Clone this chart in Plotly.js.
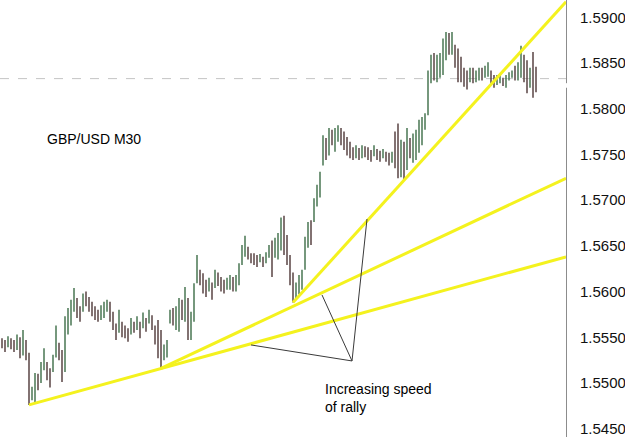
<!DOCTYPE html>
<html>
<head>
<meta charset="utf-8">
<script src="https://cdn.plot.ly/plotly-3.0.1.min.js"></script>
<style>html,body{margin:0;padding:0;background:#fff}#chart{width:625px;height:437px}</style>
</head>
<body>
<div id="chart"></div>
<script>
// GBP/USD M30 bars (bar index, O/H/L/C)
const openP = [
1.5547,1.5544,1.5540,1.5548,1.5541,1.5538,1.5549,1.5532,1.5545,1.5530,
1.5483,1.5485,1.5507,1.5502,1.5518,1.5521,1.5510,1.5514,1.5530,1.5542,
1.5530,1.5515,1.5560,1.5570,1.5582,1.5591,1.5580,1.5580,1.5597,1.5590,
1.5586,1.5580,1.5576,1.5571,1.5578,1.5582,1.5587,1.5572,1.5560,1.5557,
1.5566,1.5560,1.5555,1.5555,1.5566,1.5560,1.5566,1.5562,1.5569,1.5567,
1.5572,1.5561,1.5550,1.5540,1.5527,1.5535,1.5567,1.5579,1.5562,1.5560,
1.5589,1.5570,1.5590,1.5550,1.5572,1.5610,1.5622,1.5612,1.5605,1.5601,
1.5608,1.5606,1.5619,1.5612,1.5610,1.5603,1.5605,1.5615,1.5603,1.5610,
1.5630,1.5645,1.5647,1.5640,1.5638,1.5636,1.5633,1.5637,1.5632,1.5640,
1.5650,1.5640,1.5642,1.5650,1.5678,1.5650,1.5635,1.5612,1.5593,1.5600,
1.5605,1.5625,1.5655,1.5674,1.5678,1.5697,1.5712,1.5740,1.5766,1.5750,
1.5775,1.5760,1.5768,1.5778,1.5765,1.5760,1.5755,1.5750,1.5748,1.5756,
1.5747,1.5757,1.5752,1.5750,1.5749,1.5755,1.5750,1.5747,1.5752,1.5748,
1.5742,1.5755,1.5770,1.5728,1.5760,1.5735,1.5765,1.5748,1.5752,1.5760,
1.5770,1.5780,1.5795,1.5835,1.5856,1.5833,1.5840,1.5845,1.5862,1.5880,
1.5862,1.5868,1.5850,1.5850,1.5838,1.5835,1.5830,1.5843,1.5831,1.5833,
1.5843,1.5835,1.5840,1.5840,1.5833,1.5827,1.5829,1.5833,1.5825,1.5833,
1.5836,1.5845,1.5835,1.5845,1.5855,1.5845,1.5825,1.5845,1.5840];
const highP = [
1.5549,1.5547,1.5551,1.5549,1.5547,1.5553,1.5550,1.5558,1.5547,1.5533,
1.5496,1.5511,1.5510,1.5523,1.5538,1.5523,1.5516,1.5531,1.5563,1.5544,
1.5536,1.5573,1.5582,1.5591,1.5604,1.5593,1.5584,1.5598,1.5600,1.5594,
1.5589,1.5584,1.5580,1.5585,1.5589,1.5591,1.5589,1.5578,1.5565,1.5580,
1.5567,1.5563,1.5560,1.5571,1.5567,1.5573,1.5567,1.5577,1.5571,1.5580,
1.5574,1.5563,1.5569,1.5558,1.5542,1.5547,1.5580,1.5582,1.5584,1.5593,
1.5591,1.5605,1.5593,1.5578,1.5609,1.5640,1.5624,1.5620,1.5613,1.5615,
1.5610,1.5624,1.5621,1.5616,1.5613,1.5615,1.5618,1.5616,1.5618,1.5631,
1.5651,1.5661,1.5649,1.5642,1.5642,1.5640,1.5641,1.5638,1.5643,1.5651,
1.5656,1.5659,1.5664,1.5681,1.5683,1.5662,1.5640,1.5621,1.5610,1.5618,
1.5624,1.5660,1.5676,1.5678,1.5702,1.5717,1.5731,1.5771,1.5768,1.5779,
1.5777,1.5779,1.5782,1.5779,1.5775,1.5769,1.5764,1.5758,1.5760,1.5757,
1.5760,1.5759,1.5758,1.5755,1.5760,1.5756,1.5754,1.5756,1.5753,1.5752,
1.5753,1.5775,1.5784,1.5766,1.5764,1.5779,1.5768,1.5773,1.5777,1.5788,
1.5791,1.5795,1.5842,1.5859,1.5861,1.5859,1.5861,1.5877,1.5884,1.5883,
1.5884,1.5870,1.5866,1.5857,1.5845,1.5842,1.5845,1.5845,1.5842,1.5845,
1.5845,1.5847,1.5851,1.5842,1.5837,1.5837,1.5837,1.5834,1.5837,1.5840,
1.5842,1.5847,1.5851,1.5869,1.5859,1.5853,1.5845,1.5862,1.5846];
const lowP = [
1.5538,1.5534,1.5539,1.5537,1.5534,1.5536,1.5527,1.5530,1.5525,1.5476,
1.5481,1.5479,1.5492,1.5500,1.5514,1.5503,1.5495,1.5512,1.5528,1.5525,
1.5501,1.5512,1.5553,1.5563,1.5578,1.5571,1.5567,1.5578,1.5584,1.5578,
1.5573,1.5569,1.5567,1.5569,1.5571,1.5578,1.5567,1.5558,1.5547,1.5555,
1.5550,1.5549,1.5545,1.5553,1.5555,1.5558,1.5549,1.5560,1.5556,1.5565,
1.5558,1.5542,1.5527,1.5516,1.5525,1.5528,1.5565,1.5563,1.5558,1.5556,
1.5569,1.5567,1.5547,1.5547,1.5567,1.5609,1.5607,1.5598,1.5594,1.5600,
1.5591,1.5604,1.5606,1.5600,1.5598,1.5602,1.5602,1.5600,1.5600,1.5607,
1.5629,1.5638,1.5635,1.5631,1.5629,1.5627,1.5632,1.5627,1.5631,1.5637,
1.5616,1.5637,1.5635,1.5645,1.5640,1.5629,1.5607,1.5588,1.5591,1.5597,
1.5602,1.5624,1.5648,1.5651,1.5676,1.5693,1.5703,1.5738,1.5744,1.5749,
1.5760,1.5753,1.5764,1.5760,1.5755,1.5749,1.5746,1.5744,1.5746,1.5744,
1.5746,1.5747,1.5744,1.5742,1.5748,1.5744,1.5742,1.5746,1.5742,1.5738,
1.5741,1.5735,1.5724,1.5725,1.5722,1.5733,1.5746,1.5741,1.5744,1.5752,
1.5760,1.5777,1.5793,1.5828,1.5831,1.5829,1.5834,1.5837,1.5853,1.5859,
1.5859,1.5845,1.5829,1.5829,1.5824,1.5821,1.5829,1.5828,1.5829,1.5831,
1.5831,1.5834,1.5835,1.5828,1.5823,1.5826,1.5828,1.5825,1.5823,1.5831,
1.5834,1.5831,1.5831,1.5834,1.5829,1.5817,1.5823,1.5812,1.5818];
const closeP = [
1.5540,1.5537,1.5549,1.5540,1.5536,1.5550,1.5530,1.5555,1.5528,1.5480,
1.5494,1.5508,1.5495,1.5520,1.5535,1.5506,1.5498,1.5528,1.5560,1.5528,
1.5505,1.5570,1.5579,1.5588,1.5600,1.5575,1.5570,1.5595,1.5587,1.5580,
1.5576,1.5572,1.5570,1.5583,1.5587,1.5589,1.5570,1.5561,1.5550,1.5577,
1.5553,1.5551,1.5547,1.5568,1.5557,1.5571,1.5552,1.5575,1.5558,1.5578,
1.5561,1.5545,1.5530,1.5520,1.5540,1.5545,1.5578,1.5566,1.5582,1.5590,
1.5572,1.5602,1.5550,1.5575,1.5605,1.5636,1.5610,1.5600,1.5596,1.5612,
1.5594,1.5621,1.5609,1.5602,1.5600,1.5613,1.5616,1.5603,1.5616,1.5628,
1.5648,1.5658,1.5638,1.5633,1.5631,1.5629,1.5640,1.5629,1.5641,1.5649,
1.5620,1.5656,1.5661,1.5676,1.5645,1.5632,1.5610,1.5592,1.5607,1.5615,
1.5620,1.5657,1.5673,1.5655,1.5698,1.5714,1.5728,1.5768,1.5747,1.5776,
1.5763,1.5777,1.5780,1.5763,1.5758,1.5752,1.5748,1.5746,1.5757,1.5746,
1.5758,1.5749,1.5746,1.5744,1.5758,1.5746,1.5744,1.5754,1.5744,1.5741,
1.5751,1.5738,1.5728,1.5762,1.5726,1.5775,1.5750,1.5770,1.5774,1.5785,
1.5788,1.5793,1.5838,1.5855,1.5835,1.5856,1.5858,1.5873,1.5880,1.5862,
1.5881,1.5848,1.5832,1.5832,1.5826,1.5824,1.5843,1.5831,1.5840,1.5843,
1.5833,1.5845,1.5849,1.5830,1.5825,1.5835,1.5836,1.5827,1.5835,1.5838,
1.5841,1.5834,1.5849,1.5865,1.5832,1.5820,1.5842,1.5816,1.5833];

// Trend lines (yellow): start bar/price and value at right edge
const trendStartBar   = [9, 53, 97];
const trendStartPrice = [1.5476, 1.5516, 1.5588];
const trendEndBar     = 188;
const trendEndPrice   = [1.5638, 1.5724, 1.5917];

// Pointer lines from label vertex to each trend line
const pointerVertex = [116.67, 1.55241];
const pointerEndBar   = [83, 106.67, 121.67];
const pointerEndPrice = [1.55416, 1.55963, 1.56794];

const yTicks = [1.5450,1.5500,1.5550,1.5600,1.5650,1.5700,1.5750,1.5800,1.5850,1.5900];
const yRange = [1.54409, 1.5919];
const xRange = [-0.667, 188];

const bars = closeP.map((_, i) => i);
const FONT = 'Arial, "Liberation Sans", sans-serif';

const traces = [{
  type: 'ohlc', x: bars, open: openP, high: highP, low: lowP, close: closeP,
  increasing: {line: {color: '#4a7753', width: 1.5}},
  decreasing: {line: {color: '#5a4444', width: 1.5}},
  tickwidth: 0.15, hoverinfo: 'skip', showlegend: false
}];
trendStartBar.forEach((b, k) => {
  traces.push({type: 'scatter', mode: 'lines', x: [b, trendEndBar], y: [trendStartPrice[k], trendEndPrice[k]],
    line: {color: '#f4f21e', width: 3}, hoverinfo: 'skip', showlegend: false});
});
pointerEndBar.forEach((b, k) => {
  traces.push({type: 'scatter', mode: 'lines', x: [b, pointerVertex[0]], y: [pointerEndPrice[k], pointerVertex[1]],
    line: {color: '#3a3a3a', width: 1}, hoverinfo: 'skip', showlegend: false});
});

const lastClose = closeP[closeP.length - 1];

const layout = {
  width: 625, height: 437,
  margin: {l: 0, r: 59, t: 0, b: 0, pad: 0},
  paper_bgcolor: '#ffffff', plot_bgcolor: '#ffffff',
  showlegend: false,
  xaxis: {range: xRange, visible: false, rangeslider: {visible: false}, fixedrange: true},
  yaxis: {
    range: yRange, side: 'right', tickvals: yTicks, ticktext: yTicks.map(v => v.toFixed(4)),
    showgrid: false, zeroline: false, showline: true, linecolor: '#8c8c8c', linewidth: 1,
    ticks: '', ticklabelstandoff: 10,
    tickfont: {family: FONT, size: 15, color: '#111111'}, fixedrange: true
  },
  shapes: [
    {type: 'line', xref: 'paper', yref: 'y', x0: 0, x1: 1, y0: lastClose, y1: lastClose, layer: 'below',
     line: {color: '#c4c4c4', width: 1, dash: 'dash'}},
    {type: 'line', xref: 'paper', yref: 'y', x0: 1, x1: 1, y0: lastClose - 0.0010, y1: lastClose - 0.0005, layer: 'above',
     line: {color: '#ffffff', width: 3}}
  ],
  annotations: [
    {xref: 'paper', yref: 'paper', x: 45/566, y: (437-139)/437, xanchor: 'left', yanchor: 'middle',
     text: 'GBP/USD M30', showarrow: false, font: {family: FONT, size: 14, color: '#000'}},
    {xref: 'paper', yref: 'paper', x: 323/566, y: (437-379)/437, xanchor: 'left', yanchor: 'top', align: 'left',
     text: 'Increasing speed<br>of rally', showarrow: false, font: {family: FONT, size: 14, color: '#000'}}
  ]
};

Plotly.newPlot('chart', traces, layout, {staticPlot: true, displayModeBar: false});
</script>
</body>
</html>
